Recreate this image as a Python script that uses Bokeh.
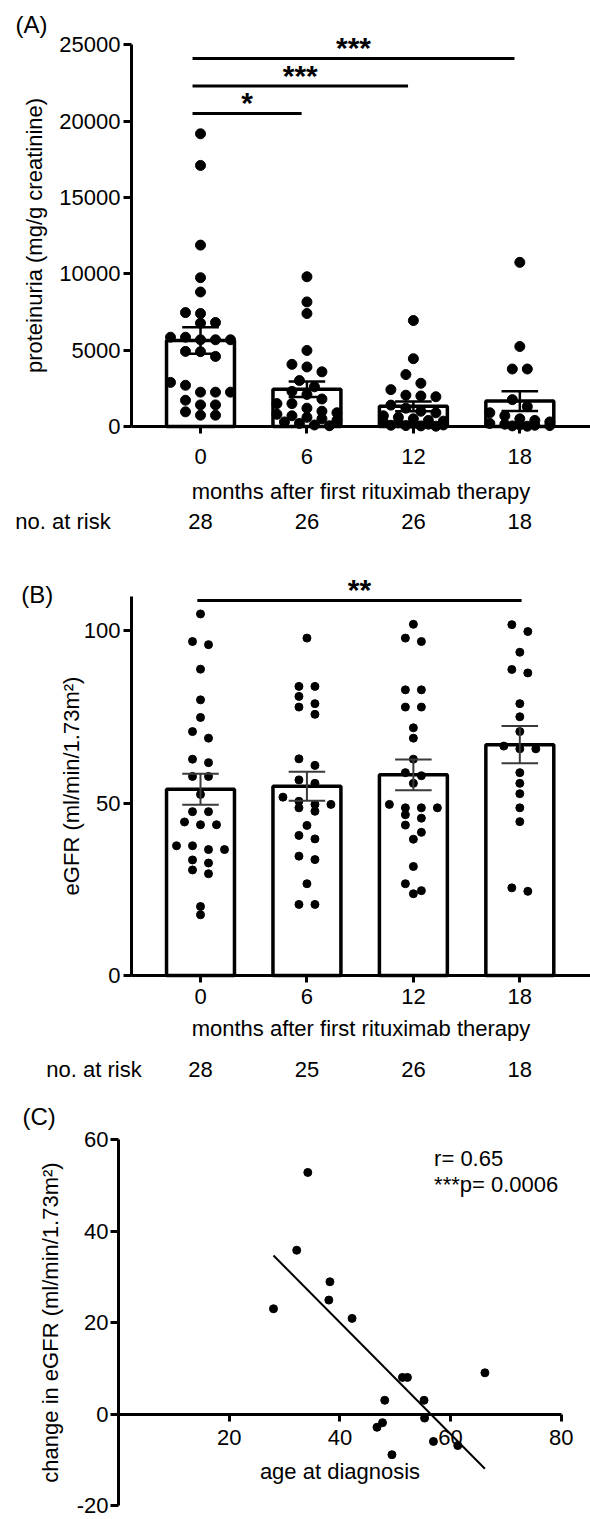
import numpy as np
from bokeh.plotting import figure
from bokeh.layouts import column
from bokeh.models import Range1d, FixedTicker, LinearAxis
from bokeh.embed import file_html
from bokeh.resources import INLINE
from bokeh.core.properties import value

FONT = "Liberation Sans"
FS = "22px"

# ---------------- data ----------------
months = [0, 6, 12, 18]

# (A) proteinuria (mg/g creatinine)
prot_m0 = [19170, 17100, 11880, 9745, 8810, 7460, 7400, 6810, 6770,
           5850, 5850, 5680, 5680, 5680, 4920, 4900, 4590,
           2890, 2700, 2250, 2250, 2250, 1720, 1415, 1415, 960, 740, 740]
prot_m6 = [9810, 8160, 7400, 4980, 4070, 3900, 3580, 3010,
           2600, 2300, 2100, 1800, 1500, 1500, 1200, 1000, 900, 800,
           700, 600, 500, 400, 300, 200, 100, 50]
prot_m12 = [6940, 4440, 3400, 2830, 2415, 2050, 2000, 1950,
            1400, 1200, 1000, 900, 700, 600, 500, 400, 350, 300,
            250, 200, 150, 100, 80, 60, 40, 20]
prot_m18 = [10750, 5240, 3765, 3765, 1760, 1300, 900, 700, 500, 400,
            300, 200, 150, 100, 80, 60, 40, 20]
at_risk_A = [28, 26, 26, 18]
sigA_pairs = [(0, 6), (0, 12), (0, 18)]
sigA_stars = ["*", "***", "***"]
sigA_level = [20500, 22300, 24100]

# (B) eGFR (ml/min/1.73m2)
egfr_m0 = [104.8, 96.8, 95.9, 88.8, 79.9, 74.8, 70.7, 68.8, 62.7, 61.7,
           57.7, 57.7, 52.5, 47.5, 47.5, 44.5, 43.7, 43.7, 37.6, 37.6,
           36.5, 36.5, 33.5, 32.6, 30.6, 29.5, 20.0, 17.6]
egfr_m6 = [97.8, 83.8, 83.8, 80.9, 78.8, 77.8, 75.7, 62.8, 60.9, 56.7,
           55.7, 51.7, 50.5, 49.6, 49.6, 48.6, 47.6, 43.5, 40.6, 39.6,
           34.6, 33.6, 26.6, 20.6, 20.6]
egfr_m12 = [101.8, 97.8, 96.8, 82.8, 82.8, 77.8, 77.8, 71.8, 68.8, 62.7,
            58.8, 57.9, 55.7, 49.6, 48.6, 48.6, 48.6, 46.6, 45.6, 43.6,
            41.5, 39.5, 31.6, 26.6, 24.6, 23.7]
egfr_m18 = [101.7, 99.7, 93.7, 88.7, 87.7, 78.8, 75.0, 70.7, 66.5, 65.7,
            65.7, 58.8, 55.7, 52.7, 48.6, 44.6, 25.4, 24.4]
at_risk_B = [28, 25, 26, 18]
sigB_pairs = [(0, 18)]
sigB_stars = ["**"]
sigB_level = [108.7]

# (C) change in eGFR vs age at diagnosis
age = [34.2, 32.2, 28.0, 38.2, 38.0, 42.2, 51.3, 52.2, 66.2, 48.1, 55.2,
       55.3, 47.7, 46.7, 49.4, 56.9, 61.3]
delta_egfr = [52.8, 35.8, 23.0, 28.9, 24.9, 20.9, 8.0, 8.0, 9.0, 3.0, 3.0,
              -0.9, -1.9, -2.9, -8.9, -6.0, -6.9]
r_text = "r= 0.65"
p_text = "***p= 0.0006"

# ---------------- layout constants (page pixels) ----------------
W = 590
PXM = 17.74                      # px per month (panels A, B)
CAT0_PX = 200.0                  # page x of month 0
X0 = -CAT0_PX / PXM              # frame spans full width
X1 = X0 + W / PXM
YAX = (131 - CAT0_PX) / PXM      # y-axis position (month units)
BAR_W = 3.83
CAP_HALF = 1.03


def mx(px):
    return (px - CAT0_PX) / PXM


def swarm_x(vals, center, ppu, d_px, s_px, max_n):
    order = sorted(range(len(vals)), key=lambda i: -vals[i])
    rows, cur = [], []
    for i in order:
        if cur and ((vals[cur[0]] - vals[i]) * ppu >= d_px or len(cur) >= max_n):
            rows.append(cur)
            cur = []
        cur.append(i)
    if cur:
        rows.append(cur)
    xs = [0.0] * len(vals)
    for row in rows:
        k = len(row)
        for j, i in enumerate(row):
            xs[i] = center + (j - (k - 1) / 2) * s_px / PXM
    return xs


def style_axis(ax, lw=3, tick_out=8):
    ax.axis_line_width = lw
    ax.axis_line_color = "black"
    ax.major_tick_line_width = lw
    ax.major_tick_line_color = "black"
    ax.major_tick_out = tick_out
    ax.major_tick_in = 0
    ax.minor_tick_line_color = None
    ax.major_label_text_font = FONT
    ax.major_label_text_font_size = FS
    ax.major_label_text_color = "black"
    ax.axis_label_text_font = FONT
    ax.axis_label_text_font_size = FS
    ax.axis_label_text_font_style = "normal"
    ax.axis_label_text_color = "black"


def bar_panel(groups, at_risk, pairs, stars, levels, ylabel, yticks, ybound,
              H, axis_y, ppu, dot, d_px, s_px, err_color, err_w, sig_off,
              pts_on_top, xtick_standoff, xlab_standoff, risk_standoff,
              ylab_standoff, tag, tag_px, risk_px):
    p = figure(width=W, height=H, x_range=Range1d(X0, X1),
               y_range=Range1d(-(H - axis_y) / ppu, axis_y / ppu), output_backend="svg",
               toolbar_location=None, min_border_left=0, min_border_right=0,
               min_border_top=0, min_border_bottom=0)
    p.outline_line_color = None
    p.grid.visible = False

    means = [float(np.mean(g)) for g in groups]
    sems = [float(np.std(g, ddof=1) / np.sqrt(len(g))) for g in groups]
    p.vbar(x=months, top=means, bottom=0, width=BAR_W, fill_color="white",
           line_color="black", line_width=3.5)

    def draw_err():
        lo = [m - s for m, s in zip(means, sems)]
        hi = [m + s for m, s in zip(means, sems)]
        p.segment(x0=months, x1=months, y0=lo, y1=hi, line_color=err_color, line_width=err_w)
        for yy in (hi, lo):
            p.segment(x0=[m - CAP_HALF for m in months], x1=[m + CAP_HALF for m in months],
                      y0=yy, y1=yy, line_color=err_color, line_width=err_w)

    def draw_pts():
        for m, g in zip(months, groups):
            xs = swarm_x(g, m, ppu, d_px, s_px, 5)
            p.scatter(x=xs, y=g, size=dot, fill_color="black", line_color="black")

    if pts_on_top:
        draw_err()
        draw_pts()
    else:
        draw_pts()
        draw_err()

    # significance bars
    for (g1, g2), st, lv in zip(pairs, stars, levels):
        x0 = g1 + sig_off[0]
        x1 = g2 + sig_off[1]
        p.segment(x0=[x0], x1=[x1], y0=[lv], y1=[lv], line_color="black", line_width=3)
        p.text(x=[(x0 + x1) / 2], y=[lv], text=[st], text_align="center",
               text_baseline="middle", y_offset=-11, text_font=value(FONT),
               text_font_size=value("30px"), text_font_style="bold", text_color="black")

    # panel tag
    p.text(x=[mx(tag_px[0])], y=[(axis_y - tag_px[1]) / ppu], text=[tag],
           text_align="left", text_baseline="middle", text_font=value(FONT),
           text_font_size=value("24px"), text_color="black")

    # axes
    style_axis(p.xaxis[0], 3, 7)
    p.xaxis.fixed_location = 0
    p.xaxis.ticker = FixedTicker(ticks=months)
    p.xaxis.bounds = (YAX, X1)
    p.xaxis.axis_label = "months after first rituximab therapy"
    p.xaxis.major_label_standoff = xtick_standoff
    p.xaxis.axis_label_standoff = xlab_standoff

    style_axis(p.yaxis[0], 3, 8)
    p.yaxis.fixed_location = YAX
    p.yaxis.ticker = FixedTicker(ticks=yticks)
    p.yaxis.bounds = ybound
    p.yaxis.axis_label = ylabel
    p.yaxis.major_label_standoff = 3
    p.yaxis.axis_label_standoff = ylab_standoff

    rx = mx(risk_px)
    overrides = {rx: "no. at risk"}
    overrides.update({m: str(n) for m, n in zip(months, at_risk)})
    risk = LinearAxis(ticker=FixedTicker(ticks=[rx] + months),
                      major_label_overrides=overrides)
    style_axis(risk, 0, 0)
    risk.axis_line_color = None
    risk.major_tick_line_color = None
    risk.fixed_location = 0
    risk.major_label_standoff = risk_standoff
    p.add_layout(risk, "below")
    return p


# Panel A: page y 0..560, x-axis at y=426, 25000 at y=44.3
pA = bar_panel([prot_m0, prot_m6, prot_m12, prot_m18], at_risk_A, sigA_pairs, sigA_stars,
               sigA_level, "proteinuria (mg/g creatinine)",
               [0, 5000, 10000, 15000, 20000, 25000], (0, 25000),
               H=560, axis_y=426, ppu=(426 - 44.3) / 25000, dot=10, d_px=10, s_px=15,
               err_color="black", err_w=2.5, sig_off=(-0.45, -0.3), pts_on_top=True,
               xtick_standoff=15, xlab_standoff=12, risk_standoff=82, ylab_standoff=9,
               tag="(A)", tag_px=(15, 24), risk_px=62.5)

# Panel B: page y 560..1085, x-axis at page y 975 (415 in figure), 3.45 px per unit
pB = bar_panel([egfr_m0, egfr_m6, egfr_m12, egfr_m18], at_risk_B, sigB_pairs, sigB_stars,
               sigB_level, "eGFR (ml/min/1.73m²)", [0, 50, 100], (0, 110),
               H=525, axis_y=415, ppu=3.45, dot=8, d_px=8, s_px=16,
               err_color="#3a3a3a", err_w=2, sig_off=(-0.18, 0.1), pts_on_top=False,
               xtick_standoff=6, xlab_standoff=9, risk_standoff=81, ylab_standoff=-3,
               tag="(B)", tag_px=(20.7, 594 - 560), risk_px=93.5)

# Panel C: page y 1085..1519
HC = 434
CX0 = 118.0          # page x of age 0
CPX = 5.535          # px per year
CY60 = 1139 - 1085   # figure y of 60
CYM20 = 1505 - 1085  # figure y of -20
CPY = (CYM20 - CY60) / 80.0
pC = figure(width=W, height=HC,
            x_range=Range1d(-CX0 / CPX, (W - CX0) / CPX),
            y_range=Range1d(-20 - (HC - CYM20) / CPY, 60 + CY60 / CPY),
            output_backend="svg", toolbar_location=None,
            min_border_left=0, min_border_right=0, min_border_top=0, min_border_bottom=0)
pC.outline_line_color = None
pC.grid.visible = False
pC.scatter(x=age, y=delta_egfr, size=8, fill_color="black", line_color="black")
slope, icpt = np.polyfit(age, delta_egfr, 1)
fx = [min(age), max(age)]
pC.line(x=fx, y=[slope * v + icpt for v in fx], line_color="black", line_width=2)
style_axis(pC.xaxis[0], 3, 7)
pC.xaxis.fixed_location = 0
pC.xaxis.bounds = (0, 80)
pC.xaxis.ticker = FixedTicker(ticks=[20, 40, 60, 80])
pC.xaxis.axis_label = "age at diagnosis"
pC.xaxis.major_label_standoff = 9
pC.xaxis.axis_label_standoff = 10
style_axis(pC.yaxis[0], 3, 8)
pC.yaxis.fixed_location = 0
pC.yaxis.bounds = (-20, 60)
pC.yaxis.ticker = FixedTicker(ticks=[-20, 0, 20, 40, 60])
pC.yaxis.major_label_overrides = {-20: "-20"}
pC.yaxis.axis_label = "change in eGFR (ml/min/1.73m²)"
pC.yaxis.major_label_standoff = 2
pC.yaxis.axis_label_standoff = 11


def cy(py):
    return 60 - (py - 1139) / CPY


def cxp(px):
    return (px - CX0) / CPX


pC.text(x=[cxp(433.6), cxp(433.6)], y=[cy(1158), cy(1184)], text=[r_text, p_text],
        text_align="left", text_baseline="middle", text_font=value(FONT),
        text_font_size=value(FS), text_color="black")
pC.text(x=[cxp(22)], y=[cy(1116)], text=["(C)"], text_align="left", text_baseline="middle",
        text_font=value(FONT), text_font_size=value("24px"), text_color="black")

layout = column(pA, pB, pC, spacing=0)
open("out.html", "w").write(file_html(layout, INLINE))
